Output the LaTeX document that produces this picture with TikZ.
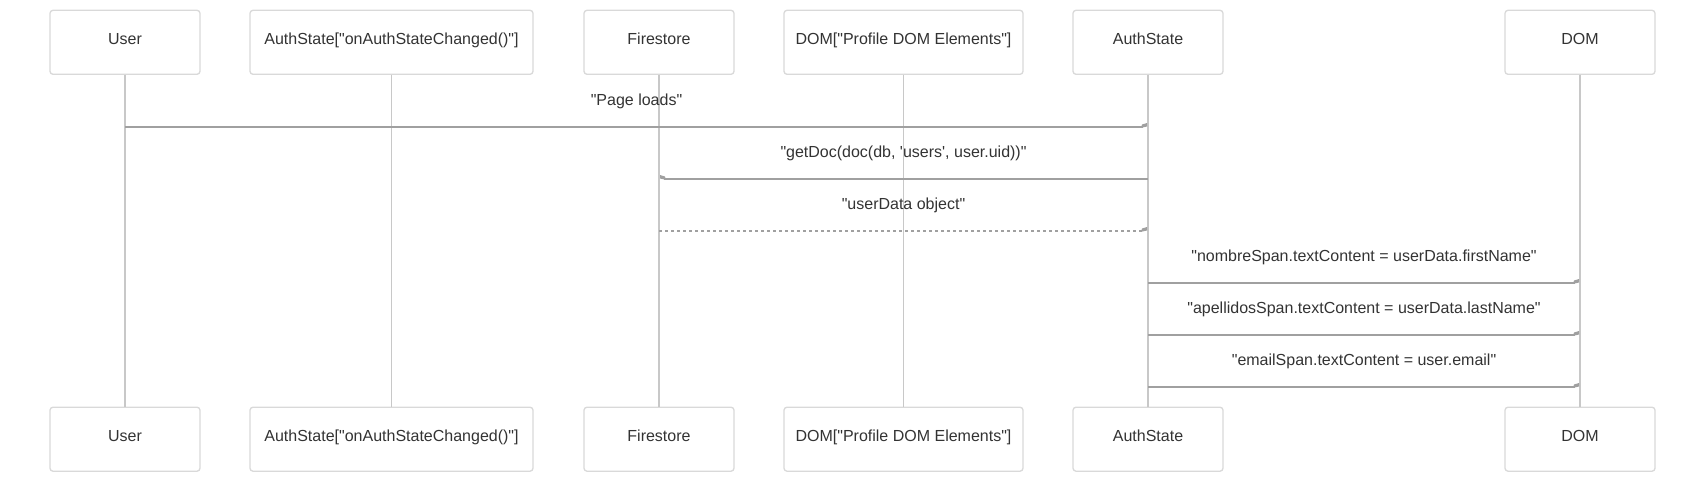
\documentclass[tikz,border=0pt]{standalone}
\usepackage{fontspec}
\newfontfamily\lsans{Liberation Sans}
\usetikzlibrary{calc}
\begin{document}
\begin{tikzpicture}[x=1pt,y=-1pt,
  actor/.style={draw=boxc,line width=1.3pt,rounded corners=3pt,fill=white,minimum height=64pt,text=txt,font=\lsans\fontsize{16}{19}\selectfont,inner sep=0pt,text height=8pt,text depth=4.4pt},
  life/.style={draw=lifec,line width=1.5pt},
  msg/.style={draw=msgc,line width=1.5pt},
  msgd/.style={draw=msgc,line width=1.5pt,dash pattern=on 3pt off 3pt},
  lbl/.style={text=txt,font=\lsans\fontsize{16}{19}\selectfont,inner sep=0pt,anchor=center}]
\definecolor{boxc}{HTML}{D9D9D9}
\definecolor{lifec}{HTML}{C8C8C8}
\definecolor{msgc}{HTML}{A0A0A0}
\definecolor{txt}{HTML}{333333}
\useasboundingbox (0,0) rectangle (1704,483);
% top actors
\node[actor,minimum width=150pt] (u1) at (125,42.3) {User};
\node[actor,minimum width=283pt] (a1) at (391.5,42.3) {AuthState["onAuthStateChanged()"]};
\node[actor,minimum width=150pt] (f1) at (659,42.3) {Firestore};
\node[actor,minimum width=239pt] (d1) at (903.5,42.3) {DOM["Profile DOM Elements"]};
\node[actor,minimum width=150pt] (s1) at (1148,42.3) {AuthState};
\node[actor,minimum width=150pt] (m1) at (1580,42.3) {DOM};
% bottom actors
\node[actor,minimum width=150pt] (u2) at (125,439.2) {User};
\node[actor,minimum width=283pt] (a2) at (391.5,439.2) {AuthState["onAuthStateChanged()"]};
\node[actor,minimum width=150pt] (f2) at (659,439.2) {Firestore};
\node[actor,minimum width=239pt] (d2) at (903.5,439.2) {DOM["Profile DOM Elements"]};
\node[actor,minimum width=150pt] (s2) at (1148,439.2) {AuthState};
\node[actor,minimum width=150pt] (m2) at (1580,439.2) {DOM};
% lifelines
\draw[life] (u1.south) -- (u2.north);
\draw[life] (a1.south) -- (a2.north);
\draw[life] (f1.south) -- (f2.north);
\draw[life] (d1.south) -- (d2.north);
\draw[life] (s1.south) -- (s2.north);
\draw[life] (m1.south) -- (m2.north);
% message coordinates
\coordinate (p1s) at (u1.south |- 0,127);
\coordinate (p1e) at (s1.south |- 0,127);
\coordinate (p2s) at (s1.south |- 0,179);
\coordinate (p2e) at (f1.south |- 0,179);
\coordinate (p3s) at (f1.south |- 0,231);
\coordinate (p3e) at (s1.south |- 0,231);
\coordinate (p4s) at (s1.south |- 0,283);
\coordinate (p4e) at (m1.south |- 0,283);
\coordinate (p5s) at (s1.south |- 0,335);
\coordinate (p5e) at (m1.south |- 0,335);
\coordinate (p6s) at (s1.south |- 0,387);
\coordinate (p6e) at (m1.south |- 0,387);
% messages
\draw[msg] (p1s) -- ([xshift=-5pt]p1e);
\fill[msgc] ([xshift=-7pt,yshift=-0.8pt]p1e) -- ([xshift=-1pt,yshift=0.5pt]p1e) -- ([xshift=-1pt,yshift=4pt]p1e) -- ([xshift=-6pt,yshift=2.5pt]p1e) -- cycle;
\node[lbl] (l1) at ($(p1s)!0.5!(p1e)+(0,-26)$) {"Page loads"};

\draw[msg] (p2s) -- ([xshift=5pt]p2e);
\fill[msgc] ([xshift=7pt,yshift=-0.8pt]p2e) -- ([xshift=1pt,yshift=0.5pt]p2e) -- ([xshift=1pt,yshift=4pt]p2e) -- ([xshift=6pt,yshift=2.5pt]p2e) -- cycle;
\node[lbl] (l2) at ($(p2s)!0.5!(p2e)+(0,-26)$) {"getDoc(doc(db, 'users', user.uid))"};

\draw[msgd] (p3s) -- ([xshift=-5pt]p3e);
\fill[msgc] ([xshift=-7pt,yshift=-0.8pt]p3e) -- ([xshift=-1pt,yshift=0.5pt]p3e) -- ([xshift=-1pt,yshift=4pt]p3e) -- ([xshift=-6pt,yshift=2.5pt]p3e) -- cycle;
\node[lbl] (l3) at ($(p3s)!0.5!(p3e)+(0,-26)$) {"userData object"};

\draw[msg] (p4s) -- ([xshift=-5pt]p4e);
\fill[msgc] ([xshift=-7pt,yshift=-0.8pt]p4e) -- ([xshift=-1pt,yshift=0.5pt]p4e) -- ([xshift=-1pt,yshift=4pt]p4e) -- ([xshift=-6pt,yshift=2.5pt]p4e) -- cycle;
\node[lbl] (l4) at ($(p4s)!0.5!(p4e)+(0,-26)$) {"nombreSpan.textContent = userData.firstName"};

\draw[msg] (p5s) -- ([xshift=-5pt]p5e);
\fill[msgc] ([xshift=-7pt,yshift=-0.8pt]p5e) -- ([xshift=-1pt,yshift=0.5pt]p5e) -- ([xshift=-1pt,yshift=4pt]p5e) -- ([xshift=-6pt,yshift=2.5pt]p5e) -- cycle;
\node[lbl] (l5) at ($(p5s)!0.5!(p5e)+(0,-26)$) {"apellidosSpan.textContent = userData.lastName"};

\draw[msg] (p6s) -- ([xshift=-5pt]p6e);
\fill[msgc] ([xshift=-7pt,yshift=-0.8pt]p6e) -- ([xshift=-1pt,yshift=0.5pt]p6e) -- ([xshift=-1pt,yshift=4pt]p6e) -- ([xshift=-6pt,yshift=2.5pt]p6e) -- cycle;
\node[lbl] (l6) at ($(p6s)!0.5!(p6e)+(0,-26)$) {"emailSpan.textContent = user.email"};
\end{tikzpicture}
\end{document}
